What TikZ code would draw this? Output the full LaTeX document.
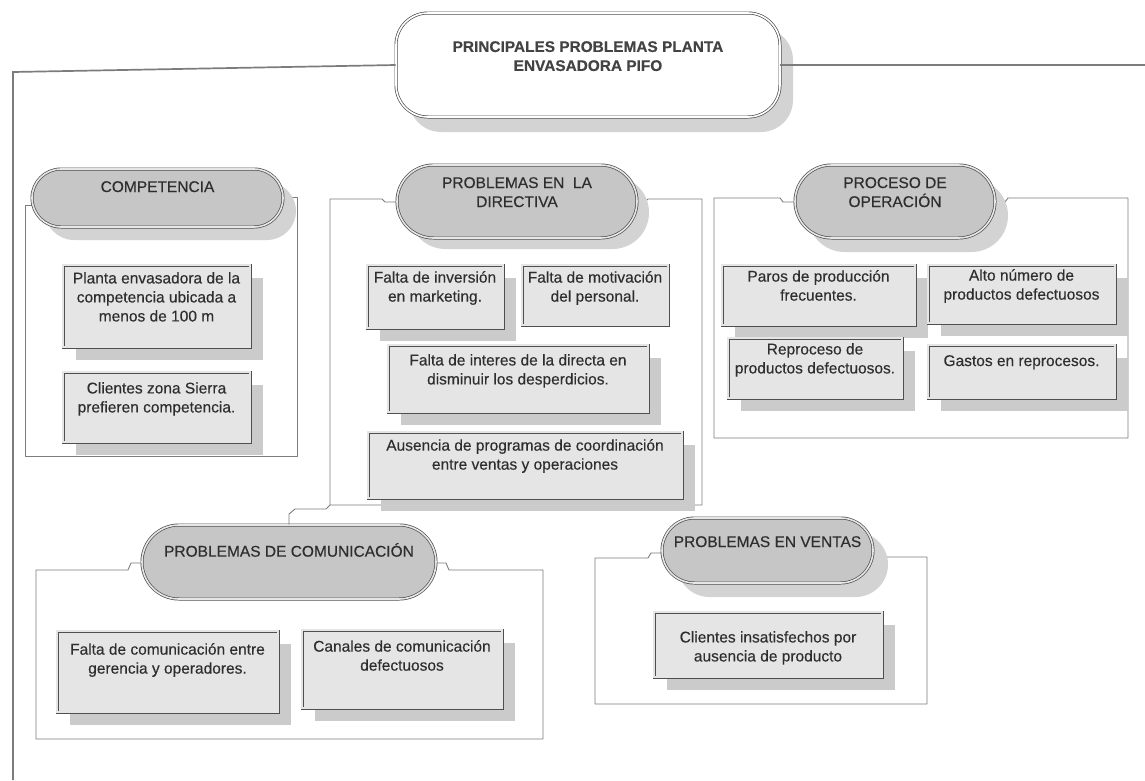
\documentclass[tikz,border=0pt]{standalone}
\usepackage{fontspec}
\setmainfont[FakeBold=0.3]{Liberation Sans}
\usetikzlibrary{shapes.misc,shadows}

\definecolor{ink}{HTML}{2E2E2E}
\definecolor{rule}{HTML}{4F4F4F}
\definecolor{framegray}{HTML}{7C7C7C}
\definecolor{pillfill}{HTML}{C6C6C6}
\definecolor{pillgap}{HTML}{E6E6E6}
\definecolor{pillshade}{HTML}{D3D3D3}
\definecolor{boxfill}{HTML}{E5E5E5}
\definecolor{boxshade}{HTML}{CBCBCB}

\tikzset{
  doubleline/.style={draw=rule, line width=0.7pt, double distance=1.6pt},
  titlebox/.style={rectangle, rounded corners=32pt, doubleline, double=white, fill=white, inner sep=0},
  pillbox/.style={rounded rectangle, doubleline, double=pillgap, fill=pillfill, inner sep=0},
  pbox/.style={rectangle, doubleline, double=boxfill, fill=boxfill, inner sep=0},
  ptext/.style={font=\fontsize{15.5}{19}\selectfont, text=ink, align=center, inner sep=0},
  titletext/.style={font=\bfseries\fontsize{15.4}{19}\selectfont, text=ink!90, align=center, inner sep=0},
  panel/.style={draw=framegray, line width=0.9pt, line join=round},
  outerframe/.style={draw=framegray, line width=1.7pt},
  boxshadow/.style={drop shadow={shadow xshift=13pt, shadow yshift=-13pt, fill=boxshade, opacity=1}},
  pillshadow/.style 2 args={drop shadow={shadow xshift=#1, shadow yshift=#2, fill=pillshade, opacity=1}},
}

% \probbox[options]{name}{x1}{y1}{x2}{y2}{first line y}{text}
\newcommand\probbox[8][]{%
  \node[pbox, #1, minimum width={#5-#3}, minimum height={#6-#4}] (#2) at ({(#3+#5)/2},{(#4+#6)/2}) {};
  \node[ptext, anchor=north] (#2-t) at ({(#3+#5)/2},{#7-6}) {#8};}

% \headpill[options]{name}{x1}{y1}{x2}{y2}{first line y}{text}
\newcommand\headpill[8][]{%
  \node[pillbox, #1, minimum width={#5-#3}, minimum height={#6-#4}] (#2) at ({(#3+#5)/2},{(#4+#6)/2}) {};
  \node[ptext, anchor=north] (#2-t) at ({(#3+#5)/2},{#7-6}) {#8};}

\begin{document}
\begin{tikzpicture}[x=1pt,y=-1pt]
\useasboundingbox[fill=white] (0,0) rectangle (1145,780);

% title
\node[titlebox, minimum width=384, minimum height=104,
      drop shadow={shadow xshift=13pt, shadow yshift=-15pt, fill=pillshade, opacity=1}]
      (title) at (588,65) {};
\node[titletext, anchor=north] (title-t) at (588,41) {PRINCIPALES PROBLEMAS PLANTA\\ENVASADORA PIFO};

% outer frame
\coordinate (frameBL) at (13,780);
\coordinate (frameTL) at (13,72);
\coordinate (frameTR) at (1145,65);
\draw[outerframe] (frameBL) -- (frameTL) -- (title.west);
\draw[outerframe] (title.east) -- (frameTR);

% group panels
\draw[panel] (32,205) -- (25,205) -- (25,456) -- (297,456) -- (297,197) -- (283,197);
\coordinate (dirBL) at (330,505);
\draw[panel] (397,202) -- (385,202) -- (382,199) -- (330,199) -- (dirBL) -- (702,505) -- (702,199) -- (648,199) -- (645,202) -- (637,202);
\draw[panel] (795,202) -- (783,202) -- (780,198) -- (714,198) -- (714,438) -- (1128,438) -- (1128,198) -- (1008,198) -- (1005,202) -- (995,202);
\draw[panel] (142,563) -- (131,563) -- (128,570) -- (36,570) -- (36,739) -- (543,739) -- (543,570) -- (449,570) -- (446,563) -- (436,563);
\draw[panel] (662,553) -- (651,553) -- (648,558) -- (595,558) -- (595,704) -- (927,704) -- (927,557) -- (880,557) -- (877,553) -- (873,553);

% group headings
\headpill[pillshadow={13pt}{-13pt}]{comp}{32}{169}{283}{227}{187}{COMPETENCIA}
\headpill[pillshadow={12pt}{-11pt}]{dir}{397}{165}{637}{238}{183}{PROBLEMAS EN \ LA\\DIRECTIVA}
\headpill[pillshadow={13pt}{-14pt}]{proc}{795}{165}{995}{238}{183}{PROCESO DE\\OPERACIÓN}
\headpill{com}{142}{525}{436}{599}{549}{PROBLEMAS DE COMUNICACIÓN}
\headpill[pillshadow={15pt}{-14pt}]{ven}{662}{518}{873}{583}{542}{PROBLEMAS EN VENTAS}

% link between the directiva group and the comunicación heading
\draw[panel] (dirBL) -- (326,509) -- (295,509) -- (289,514) -- (com.north);

% competencia
\probbox[boxshadow]{c1}{63}{265}{250}{347}{278}{Planta envasadora de la\\competencia ubicada a\\menos de 100 m}
\probbox[boxshadow]{c2}{63}{372}{250}{442}{388}{Clientes zona Sierra\\prefieren competencia.}

% directiva
\probbox[boxshadow]{d1}{367}{265}{503}{328}{277}{Falta de inversión\\en marketing.}
\probbox{d2}{522}{265}{668}{325}{277}{Falta de motivación\\del personal.}
\probbox[boxshadow]{d3}{388}{345}{648}{412}{360}{Falta de interes de la directa en\\disminuir los desperdicios.}
\probbox[boxshadow]{d4}{368}{432}{682}{498}{445}{Ausencia de programas de coordinación\\entre ventas y operaciones}

% proceso de operación
\probbox[boxshadow]{p1}{722}{265}{915}{325}{276}{Paros de producción\\frecuentes.}
\probbox[boxshadow]{p2}{928}{265}{1115}{323}{275}{Alto número de\\productos defectuosos}
\probbox[boxshadow]{p3}{728}{338}{902}{398}{349}{Reproceso de\\productos defectuosos.}
\probbox[boxshadow]{p4}{928}{345}{1115}{398}{361}{Gastos en reprocesos.}

% comunicación
\probbox[boxshadow]{m1}{57}{631}{278}{712}{649}{Falta de comunicación entre\\gerencia y operadores.}
\probbox[boxshadow]{m2}{302}{630}{502}{708}{646}{Canales de comunicación\\defectuosos}

% ventas
\probbox[boxshadow]{v1}{654}{612}{882}{677}{637}{Clientes insatisfechos por\\ausencia de producto}
\end{tikzpicture}
\end{document}
